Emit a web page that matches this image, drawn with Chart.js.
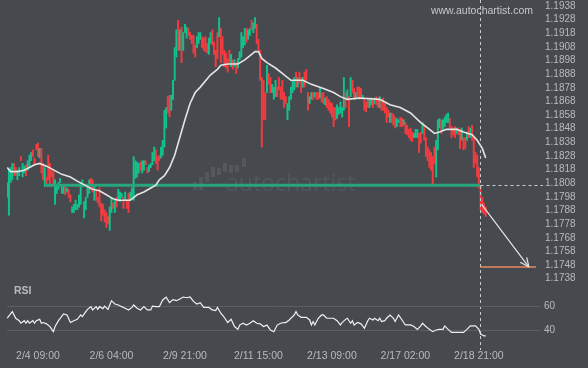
<!DOCTYPE html>
<html>
<head>
<meta charset="utf-8">
<title>Breakout - 1.1808 support</title>
<script src="https://cdn.jsdelivr.net/npm/chart.js@4.4.1/dist/chart.umd.min.js"></script>
<style>
  html, body { margin: 0; padding: 0; background: #46494e; }
  #wrap { position: relative; width: 588px; height: 368px; }
  #wrap canvas { position: absolute; left: 0; top: 0; }
</style>
</head>
<body>
<div id="wrap">
  <canvas id="price-chart" width="588" height="368"></canvas>
  <canvas id="rsi-chart" width="588" height="368"></canvas>
</div>
<script>
// ---- data (hourly candles, index 0 .. 280) ----
const dateLabels = ['2/4 09:00', '2/6 04:00', '2/9 21:00', '2/11 15:00', '2/13 09:00', '2/17 02:00', '2/18 21:00'];
const dateIdx = [18, 61, 104, 147, 190, 233, 276];

const priceTicks = [1.1738, 1.1748, 1.1758, 1.1768, 1.1778, 1.1788, 1.1798, 1.1808, 1.1818, 1.1828, 1.1838,
  1.1848, 1.1858, 1.1868, 1.1878, 1.1888, 1.1898, 1.1908, 1.1918, 1.1928, 1.1938];
const rsiTicks = [40, 60];

const opens = [
  1.1799,1.1786,1.1810,1.1812,1.1824,1.1821,1.1812,1.1815,1.1829,1.1814,
  1.1817,1.1823,1.1819,1.1821,1.1826,1.1834,1.1828,1.1838,1.1839,1.1828,
  1.1835,1.1824,1.1807,1.1814,1.1830,1.1824,1.1819,1.1818,1.1794,1.1802,
  1.1805,1.1810,1.1802,1.1802,1.1808,1.1803,1.1805,1.1801,1.1788,1.1788,
  1.1790,1.1790,1.1792,1.1794,1.1807,1.1784,1.1790,1.1799,1.1802,1.1813,
  1.1812,1.1797,1.1805,1.1799,1.1806,1.1795,1.1794,1.1790,1.1788,1.1785,
  1.1775,1.1788,1.1795,1.1788,1.1799,1.1797,1.1796,1.1799,1.1799,1.1797,
  1.1797,1.1802,1.1797,1.1799,1.1797,1.1813,1.1814,1.1817,1.1825,1.1817,
  1.1819,1.1826,1.1821,1.1818,1.1821,1.1823,1.1826,1.1834,1.1829,1.1830,
  1.1828,1.1830,1.1836,1.1850,1.1873,1.1874,1.1863,1.1871,1.1885,1.1902,
  1.1929,1.1907,1.1924,1.1907,1.1920,1.1916,1.1923,1.1920,1.1918,1.1918,
  1.1911,1.1909,1.1912,1.1915,1.1917,1.1916,1.1917,1.1912,1.1904,1.1912,
  1.1922,1.1913,1.1907,1.1920,1.1917,1.1923,1.1917,1.1907,1.1905,1.1901,
  1.1907,1.1895,1.1900,1.1895,1.1898,1.1894,1.1900,1.1902,1.1909,1.1911,
  1.1923,1.1915,1.1918,1.1929,1.1920,1.1923,1.1926,1.1915,1.1907,1.1887,
  1.1885,1.1876,1.1876,1.1890,1.1887,1.1876,1.1871,1.1873,1.1880,1.1887,
  1.1880,1.1885,1.1876,1.1873,1.1856,1.1863,1.1871,1.1876,1.1878,1.1891,
  1.1880,1.1891,1.1887,1.1880,1.1891,1.1893,1.1876,1.1868,1.1871,1.1876,
  1.1873,1.1876,1.1876,1.1872,1.1876,1.1876,1.1867,1.1873,1.1871,1.1869,
  1.1868,1.1865,1.1865,1.1857,1.1860,1.1861,1.1858,1.1863,1.1876,1.1871,
  1.1873,1.1873,1.1885,1.1879,1.1871,1.1880,1.1880,1.1879,1.1871,1.1871,
  1.1869,1.1872,1.1865,1.1867,1.1871,1.1868,1.1873,1.1872,1.1865,1.1871,
  1.1872,1.1868,1.1865,1.1863,1.1854,1.1861,1.1860,1.1858,1.1851,1.1854,
  1.1858,1.1857,1.1852,1.1854,1.1852,1.1849,1.1850,1.1847,1.1843,1.1843,
  1.1843,1.1846,1.1847,1.1846,1.1851,1.1843,1.1836,1.1834,1.1832,1.1829,
  1.1836,1.1814,1.1834,1.1850,1.1856,1.1849,1.1851,1.1854,1.1854,1.1857,
  1.1851,1.1850,1.1851,1.1846,1.1850,1.1849,1.1841,1.1843,1.1843,1.1841,
  1.1851,1.1843,1.1852,1.1843,1.1832,1.1830,1.1821,1.1808,1.1799,1.1795,
  1.1792
];
const closes = [
  1.1810,1.1819,1.1821,1.1824,1.1815,1.1815,1.1819,1.1821,1.1826,1.1824,
  1.1822,1.1815,1.1826,1.1830,1.1832,1.1829,1.1823,1.1834,1.1829,1.1835,
  1.1817,1.1812,1.1821,1.1807,1.1812,1.1807,1.1814,1.1808,1.1812,1.1808,
  1.1810,1.1813,1.1808,1.1808,1.1801,1.1806,1.1799,1.1796,1.1792,1.1794,
  1.1797,1.1794,1.1801,1.1810,1.1812,1.1796,1.1799,1.1807,1.1812,1.1805,
  1.1803,1.1808,1.1797,1.1795,1.1792,1.1782,1.1786,1.1781,1.1777,1.1780,
  1.1792,1.1799,1.1791,1.1797,1.1792,1.1805,1.1803,1.1802,1.1791,1.1803,
  1.1791,1.1788,1.1803,1.1806,1.1829,1.1826,1.1825,1.1824,1.1819,1.1826,
  1.1826,1.1823,1.1817,1.1823,1.1824,1.1832,1.1836,1.1824,1.1819,1.1826,
  1.1836,1.1841,1.1863,1.1865,1.1861,1.1858,1.1874,1.1885,1.1909,1.1922,
  1.1907,1.1922,1.1898,1.1920,1.1926,1.1924,1.1918,1.1915,1.1912,1.1905,
  1.1902,1.1917,1.1920,1.1920,1.1909,1.1907,1.1906,1.1905,1.1916,1.1920,
  1.1911,1.1904,1.1895,1.1901,1.1931,1.1898,1.1904,1.1895,1.1894,1.1891,
  1.1898,1.1904,1.1893,1.1900,1.1890,1.1901,1.1906,1.1920,1.1917,1.1923,
  1.1913,1.1922,1.1923,1.1922,1.1927,1.1931,1.1912,1.1907,1.1885,1.1836,
  1.1856,1.1856,1.1896,1.1882,1.1876,1.1882,1.1880,1.1885,1.1873,1.1878,
  1.1871,1.1871,1.1865,1.1868,1.1868,1.1873,1.1880,1.1885,1.1887,1.1880,
  1.1887,1.1883,1.1876,1.1887,1.1880,1.1885,1.1863,1.1873,1.1876,1.1871,
  1.1876,1.1871,1.1871,1.1879,1.1869,1.1868,1.1872,1.1865,1.1863,1.1861,
  1.1858,1.1851,1.1856,1.1867,1.1865,1.1869,1.1865,1.1887,1.1865,1.1878,
  1.1851,1.1887,1.1876,1.1871,1.1876,1.1873,1.1871,1.1872,1.1874,1.1863,
  1.1862,1.1865,1.1871,1.1872,1.1865,1.1872,1.1867,1.1865,1.1873,1.1863,
  1.1863,1.1861,1.1854,1.1858,1.1861,1.1854,1.1852,1.1850,1.1857,1.1856,
  1.1851,1.1851,1.1856,1.1846,1.1845,1.1843,1.1841,1.1840,1.1846,1.1849,
  1.1849,1.1832,1.1839,1.1854,1.1841,1.1829,1.1826,1.1821,1.1819,1.1808,
  1.1824,1.1841,1.1856,1.1857,1.1846,1.1856,1.1858,1.1860,1.1861,1.1850,
  1.1843,1.1845,1.1843,1.1850,1.1845,1.1835,1.1850,1.1834,1.1835,1.1847,
  1.1843,1.1850,1.1841,1.1821,1.1824,1.1814,1.1806,1.1790,1.1788,1.1787,
  1.1785
];

// moving average, sampled along the candle index
const maIdx = [0, 2, 6, 10, 13, 16, 19, 23, 26, 29, 32, 37, 41, 44, 47, 50, 54, 58, 62, 65,
  72, 74, 76, 80, 84, 87, 89, 92, 95, 98, 101, 104, 107, 110, 113, 119, 123, 125, 129, 135,
  139, 143, 145, 147, 149, 152, 157, 161, 166, 173, 178, 185, 191, 195, 199, 206, 218, 224, 230, 236,
  242, 246, 250, 253, 257, 263, 267, 272, 275, 278, 280];
const maVals = [1.1821, 1.1818, 1.1818, 1.1819, 1.1821, 1.1823, 1.1824, 1.1822, 1.1820, 1.1818,
  1.1816, 1.1814, 1.1811, 1.1809, 1.1807, 1.1805, 1.1804, 1.1801, 1.1798, 1.1797,
  1.1797, 1.1799, 1.1801, 1.1803, 1.1806, 1.1808, 1.1812, 1.1815, 1.1821, 1.1830,
  1.1843, 1.1856, 1.1868, 1.1876, 1.1880, 1.1889, 1.1893, 1.1896, 1.1897, 1.1897,
  1.1900, 1.1904, 1.1906, 1.1906, 1.1901, 1.1898, 1.1894, 1.1890, 1.1885, 1.1885,
  1.1882, 1.1879, 1.1876, 1.1873, 1.1871, 1.1872, 1.1871, 1.1867, 1.1865, 1.1861,
  1.1854, 1.1850, 1.1846, 1.1847, 1.1849, 1.1849, 1.1847, 1.1845, 1.1841, 1.1835, 1.1828];

// RSI
const rsiIdx = [0,3,5,7,8,10,11,12,13,15, 16,17,19,20,21,23,25,27,28,30, 33,35,37,39,41,43,44,46,47,49,
  50,52,53,54,56,57,59,60,61,63, 65,67,69,71,73,74,76,78,80,82, 84,85,87,89,91,93,95,97,99,101,
  103,105,107,109,111,113,115,118,120,122, 123,125,127,129,131,133,135,136,138,140,
  142,144,146,148,150,152,154,156,158,160, 162,163,165,168,169,170,172,175,177,178,
  179,180,182,184,185,187,191,193,195,196, 198,199,201,202,203,205,207,208,209,211,
  212,214,215,217,218,219,221,222,224,226, 227,229,231,233,236,238,240,242,243,245,
  247,249,251,253,255,256,258,260,263,267, 269,271,274,276,277,279,280];
const rsiVals = [50.2,55.6,50.2,48.2,46.1,48.2,46.1,48.2,46.1,48.2, 46.1,48.2,49.3,46.1,46.7,45.6,43.4,39.2,43.4,48.2,
  53.7,52.9,46.7,48.2,49.3,52.9,51.5,55.6,57.5,59.7, 57.0,59.7,57.5,59.7,58.1,60.2,57.5,61.1,64.6,61.9,
  61.1,59.7,58.4,57.0,59.1,61.1,58.4,57.0,59.7,57.0, 57.0,60.2,59.7,59.7,65.2,67.5,63.0,65.5,64.6,66.0,
  67.6,67.0,67.6,64.0,61.9,63.0,59.1,59.1,57.0,56.5, 59.1,54.3,51.0,46.7,49.3,43.4,41.1,44.6,46.1,44.6,
  46.1,48.2,46.1,45.6,43.4,44.6,40.6,39.2,44.6,46.1, 46.7,46.7,48.8,52.9,55.6,52.9,51.0,51.0,48.8,44.7,
  47.5,44.7,50.2,52.9,52.9,50.2,50.2,48.2,44.7,46.7, 49.3,50.2,46.1,48.2,44.7,46.7,45.6,43.9,42.0,48.2,
  50.2,48.8,50.2,48.2,50.2,47.5,48.2,50.2,52.9,50.2, 47.5,52.9,48.8,44.7,44.7,43.4,41.1,43.9,46.1,43.4,
  41.1,39.2,40.6,41.1,41.1,43.9,41.1,38.6,38.6,38.6, 41.1,43.9,43.9,41.1,37.3,35.7,35.7];

// breakout pattern
const levelPrice = 1.1808;
const levelFrom = 22.7;
const patternEnd = 276.7;
const arrowFrom = 277.6;
const arrowFromPrice = 1.1794;
const arrowTo = 305.3;
const targetPrice = 1.1748;
const targetTo = 309.4;

// ---- styling ----
const FONT = "'Liberation Sans', Arial, sans-serif";
const TEXT = '#b7babe';
const UP = '#12c28d';
const DOWN = '#f43b3f';
const LEVEL = '#27a67d';
const TARGET = '#e9885c';
const X_MIN = -0.12, X_MAX = 311.76;
const P_MIN = 1.16908, P_MAX = 1.19439;
const R_MIN = 28.28, R_MAX = 73.36;

Chart.defaults.font.family = FONT;

const candleData = opens.map((o, i) => ({ x: i, y: [o, closes[i]] }));
const candleColors = opens.map((o, i) => (closes[i] >= o ? UP : DOWN));
const maData = maIdx.map((x, k) => ({ x, y: maVals[k] }));
const rsiData = rsiIdx.map((x, k) => ({ x, y: rsiVals[k] }));

const decor = {
  id: 'decor',
  beforeDatasetsDraw(chart) {
    const { ctx } = chart;
    // faint centre logo
    ctx.save();
    ctx.fillStyle = 'rgba(255,255,255,0.08)';
    [[193, 182, 190], [199, 177, 190], [205, 172, 182], [211, 167, 177], [217, 168, 175],
     [223, 163, 172], [229, 165, 173], [235, 165, 172], [242, 158, 167]].forEach(b => {
      ctx.fillRect(b[0], b[1], 4, b[2] - b[1]);
    });
    ctx.fillStyle = 'rgba(255,255,255,0.07)';
    ctx.font = "23px 'Open Sans', sans-serif";
    ctx.textBaseline = 'middle';
    ctx.fillText('autochartist', 226, 184);
    ctx.restore();
  },
  afterDatasetsDraw(chart) {
    const { ctx, chartArea: a, scales: { x, y } } = chart;
    const px = Math.round(x.getPixelForValue(patternEnd)) + 0.5;
    const py = Math.round(y.getPixelForValue(levelPrice)) + 0.5;
    ctx.save();
    ctx.strokeStyle = '#c9cacc';
    ctx.lineWidth = 1;
    ctx.setLineDash([3, 3]);
    ctx.beginPath();
    ctx.moveTo(px, 0); ctx.lineTo(px, a.bottom + 5);
    ctx.moveTo(px, py); ctx.lineTo(a.right + 3, py);
    ctx.stroke();

    // arrow head
    const x0 = x.getPixelForValue(arrowFrom), y0 = y.getPixelForValue(arrowFromPrice);
    const x1 = x.getPixelForValue(arrowTo), y1 = y.getPixelForValue(targetPrice);
    const ang = Math.atan2(y1 - y0, x1 - x0);
    ctx.setLineDash([]);
    ctx.strokeStyle = '#e6e6e6';
    ctx.lineWidth = 1.2;
    ctx.beginPath();
    [-1, 1].forEach(s => {
      ctx.moveTo(x1, y1);
      ctx.lineTo(x1 - 10 * Math.cos(ang + s * 0.42), y1 - 10 * Math.sin(ang + s * 0.42));
    });
    ctx.stroke();

    ctx.fillStyle = '#c6c7c9';
    ctx.font = `10.5px ${FONT}`;
    ctx.textAlign = 'right';
    ctx.textBaseline = 'middle';
    ctx.fillText('www.autochartist.com', a.right - 7, 11);
    ctx.restore();
  }
};

new Chart(document.getElementById('price-chart'), {
  type: 'bar',
  data: {
    datasets: [
      { type: 'bar', data: candleData, backgroundColor: candleColors, borderWidth: 0, barThickness: 1.3, order: 4 },
      { type: 'line', data: [{ x: levelFrom, y: levelPrice }, { x: patternEnd, y: levelPrice }],
        borderColor: LEVEL, borderWidth: 3, pointRadius: 0, order: 3 },
      { type: 'line', data: maData, borderColor: '#e4e4e4', borderWidth: 1.6, pointRadius: 0, order: 2 },
      { type: 'line', data: [{ x: patternEnd, y: targetPrice }, { x: targetTo, y: targetPrice }],
        borderColor: TARGET, borderWidth: 1.5, pointRadius: 0, order: 1 },
      { type: 'line', data: [{ x: arrowFrom, y: arrowFromPrice }, { x: arrowTo, y: targetPrice }],
        borderColor: '#e6e6e6', borderWidth: 1.2, pointRadius: 0, order: 1 }
    ]
  },
  options: {
    responsive: false,
    animation: false,
    layout: { autoPadding: false, padding: { left: 7, top: 0, right: 0, bottom: 23 } },
    plugins: { legend: { display: false }, tooltip: { enabled: false } },
    scales: {
      x: { type: 'linear', min: X_MIN, max: X_MAX, offset: false, display: false },
      y: {
        position: 'right', min: P_MIN, max: P_MAX,
        grid: { display: false, drawTicks: false }, border: { display: false },
        afterBuildTicks: s => { s.ticks = priceTicks.map(v => ({ value: v })); },
        afterFit: s => { s.width = 48; s.paddingTop = 0; s.paddingBottom = 0; },
        ticks: { color: TEXT, font: { size: 10 }, padding: 5, labelOffset: -2, callback: v => v.toFixed(4) }
      }
    }
  },
  plugins: [decor]
});

const rsiTitle = {
  id: 'rsiTitle',
  afterDraw(chart) {
    const { ctx, chartArea: a } = chart;
    ctx.save();
    ctx.fillStyle = TEXT;
    ctx.font = `bold 10.5px ${FONT}`;
    ctx.textBaseline = 'middle';
    ctx.fillText('RSI', a.left + 7, a.top + 1);
    ctx.restore();
  }
};

new Chart(document.getElementById('rsi-chart'), {
  type: 'line',
  data: {
    datasets: [{ data: rsiData, borderColor: '#f0f0f0', borderWidth: 1.2, pointRadius: 0 }]
  },
  options: {
    responsive: false,
    animation: false,
    layout: { autoPadding: false, padding: { left: 7, top: 290, right: 0, bottom: 0 } },
    plugins: { legend: { display: false }, tooltip: { enabled: false } },
    scales: {
      x: {
        type: 'linear', min: X_MIN, max: X_MAX, offset: false,
        grid: { display: false, drawTicks: false }, border: { display: false },
        afterBuildTicks: s => { s.ticks = dateIdx.map(v => ({ value: v })); },
        afterFit: s => { s.height = 23; s.paddingLeft = 0; s.paddingRight = 0; },
        ticks: { color: TEXT, font: { size: 10.5 }, padding: 5, maxRotation: 0, autoSkip: false,
          callback: (v, i) => dateLabels[i] }
      },
      y: {
        position: 'right', min: R_MIN, max: R_MAX,
        grid: { color: '#5b5f64', drawTicks: false }, border: { display: false },
        afterBuildTicks: s => { s.ticks = rsiTicks.map(v => ({ value: v })); },
        afterFit: s => { s.width = 48; s.paddingTop = 0; s.paddingBottom = 0; },
        ticks: { color: TEXT, font: { size: 10 }, padding: 4 }
      }
    }
  },
  plugins: [rsiTitle]
});
</script>
</body>
</html>
